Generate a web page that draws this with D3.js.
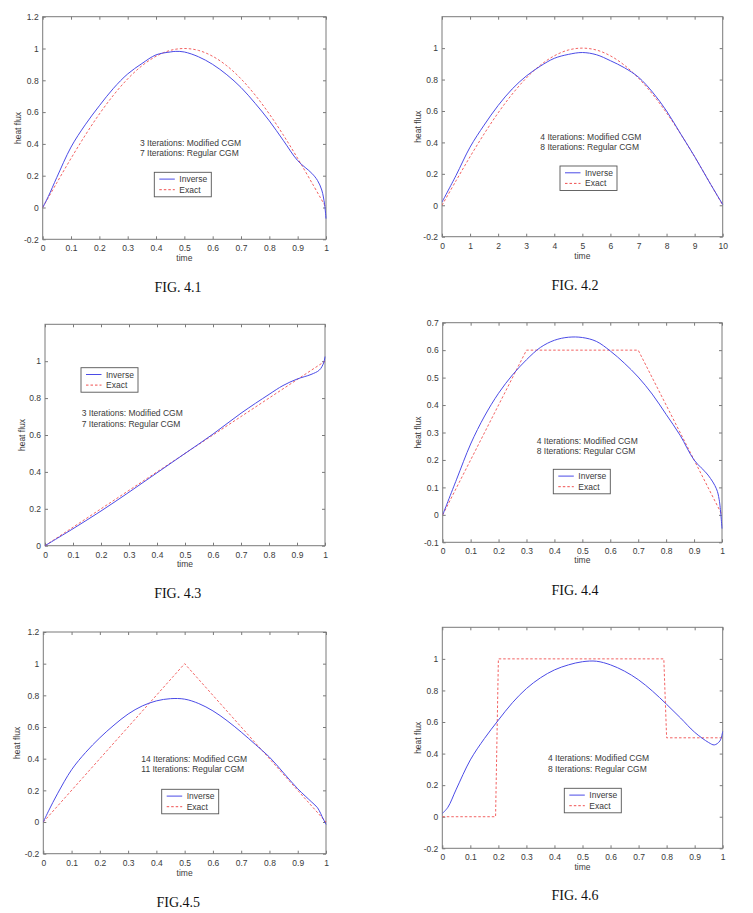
<!DOCTYPE html>
<html>
<head>
<meta charset="utf-8">
<script src="https://cdn.jsdelivr.net/npm/d3@7/dist/d3.min.js"></script>
<style>
  html, body { margin: 0; padding: 0; background: #fff; }
  svg { display: block; }
</style>
</head>
<body>
<svg id="chart" width="753" height="913"></svg>
<script>
// ---------------- DATA ----------------
const figureNames = ["FIG. 4.1", "FIG. 4.2", "FIG. 4.3", "FIG. 4.4", "FIG.4.5", "FIG. 4.6"];
const legendLabels = ["Inverse", "Exact"];
const annotations = [
  ["3 Iterations: Modified CGM", "7 Iterations: Regular CGM"],
  ["4 Iterations: Modified CGM", "8 Iterations: Regular CGM"],
  ["3 Iterations: Modified CGM", "7 Iterations: Regular CGM"],
  ["4 Iterations: Modified CGM", "8 Iterations: Regular CGM"],
  ["14 Iterations: Modified CGM", "11 Iterations: Regular CGM"],
  ["4 Iterations: Modified CGM", "8 Iterations: Regular CGM"]
];
const xLabel = "time";
const yLabel = "heat flux";

const xTicksUnit = [0, 0.1, 0.2, 0.3, 0.4, 0.5, 0.6, 0.7, 0.8, 0.9, 1];
const xTicksTen = [0, 1, 2, 3, 4, 5, 6, 7, 8, 9, 10];
const yTicksA = [-0.2, 0, 0.2, 0.4, 0.6, 0.8, 1, 1.2];
const yTicksB = [-0.2, 0, 0.2, 0.4, 0.6, 0.8, 1];
const yTicksC = [0, 0.2, 0.4, 0.6, 0.8, 1];
const yTicksD = [-0.1, 0, 0.1, 0.2, 0.3, 0.4, 0.5, 0.6, 0.7];

// FIG 4.1
const f1Time    = [0, 0.02, 0.05, 0.1, 0.15, 0.2, 0.25, 0.3, 0.35, 0.4, 0.45, 0.47, 0.5, 0.55, 0.6, 0.65, 0.7, 0.75, 0.8, 0.85, 0.9, 0.95, 0.97, 0.985, 0.995, 1];
const f1Inverse = [0, 0.07, 0.19, 0.38, 0.52, 0.64, 0.75, 0.84, 0.905, 0.96, 0.978, 0.982, 0.978, 0.948, 0.9, 0.835, 0.755, 0.655, 0.545, 0.42, 0.295, 0.215, 0.17, 0.11, 0.02, -0.07];
const f1ExactTime = [0, 0.05, 0.1, 0.15, 0.2, 0.25, 0.3, 0.35, 0.4, 0.45, 0.5, 0.55, 0.6, 0.65, 0.7, 0.75, 0.8, 0.85, 0.9, 0.95, 1];
const f1Exact     = [0, 0.156, 0.309, 0.454, 0.588, 0.707, 0.809, 0.891, 0.951, 0.988, 1, 0.988, 0.951, 0.891, 0.809, 0.707, 0.588, 0.454, 0.309, 0.156, 0];

// FIG 4.2
const f2Time    = [0, 0.5, 1, 1.5, 2, 2.5, 3, 3.5, 4, 4.5, 5, 5.5, 6, 6.5, 7, 7.5, 8, 8.5, 9, 9.5, 10];
const f2Inverse = [0.02, 0.19, 0.37, 0.51, 0.635, 0.74, 0.822, 0.885, 0.935, 0.96, 0.972, 0.958, 0.92, 0.875, 0.815, 0.72, 0.6, 0.455, 0.31, 0.155, 0.005];
const f2Exact   = [0, 0.156, 0.309, 0.454, 0.588, 0.707, 0.809, 0.891, 0.951, 0.988, 1, 0.988, 0.951, 0.891, 0.809, 0.707, 0.588, 0.454, 0.309, 0.156, 0];

// FIG 4.3
const f3Time    = [0, 0.1, 0.2, 0.3, 0.4, 0.5, 0.6, 0.7, 0.8, 0.85, 0.9, 0.95, 0.98, 0.995, 1];
const f3Inverse = [0, 0.092, 0.188, 0.29, 0.395, 0.5, 0.605, 0.718, 0.82, 0.868, 0.903, 0.928, 0.952, 0.99, 1.025];
const f3ExactTime = [0, 1];
const f3Exact     = [0, 1];

// FIG 4.4
const f4Time    = [0, 0.05, 0.1, 0.15, 0.2, 0.25, 0.3, 0.35, 0.4, 0.45, 0.5, 0.55, 0.6, 0.65, 0.7, 0.75, 0.8, 0.85, 0.9, 0.95, 0.98, 0.99, 1];
const f4Inverse = [0, 0.13, 0.258, 0.36, 0.443, 0.51, 0.565, 0.61, 0.636, 0.647, 0.646, 0.632, 0.597, 0.553, 0.502, 0.44, 0.366, 0.29, 0.2, 0.145, 0.095, 0.055, -0.05];
const f4ExactTime = [0, 0.3, 0.7, 1];
const f4Exact     = [0, 0.6, 0.6, 0];

// FIG 4.5
const f5Time    = [0, 0.02, 0.05, 0.1, 0.15, 0.2, 0.25, 0.3, 0.35, 0.4, 0.45, 0.5, 0.55, 0.6, 0.65, 0.7, 0.75, 0.8, 0.85, 0.9, 0.95, 0.97, 0.99, 1];
const f5Inverse = [0, 0.075, 0.178, 0.33, 0.44, 0.532, 0.612, 0.682, 0.733, 0.765, 0.779, 0.776, 0.748, 0.702, 0.64, 0.568, 0.49, 0.41, 0.31, 0.21, 0.125, 0.09, 0.02, -0.015];
const f5ExactTime = [0, 0.5, 1];
const f5Exact     = [0, 1, 0];

// FIG 4.6
const f6Time    = [0, 0.02, 0.05, 0.1, 0.15, 0.2, 0.25, 0.3, 0.35, 0.4, 0.45, 0.5, 0.55, 0.6, 0.65, 0.7, 0.75, 0.8, 0.85, 0.9, 0.95, 0.97, 0.99, 1];
const f6Inverse = [0.02, 0.06, 0.175, 0.36, 0.495, 0.612, 0.722, 0.812, 0.88, 0.93, 0.962, 0.982, 0.985, 0.962, 0.922, 0.867, 0.795, 0.712, 0.625, 0.535, 0.47, 0.455, 0.48, 0.54];
const f6ExactTime = [0, 0.19, 0.2, 0.79, 0.8, 1];
const f6Exact     = [0, 0, 1, 1, 0.5, 0.5];

// ---------------- LAYOUT ----------------
const panels = [
  { rect: [42.7, 16.7, 326, 239.3], xd: [0, 1], yd: [-0.2, 1.2], xt: xTicksUnit, yt: yTicksA,
    inv: [f1Time, f1Inverse], ex: [f1ExactTime, f1Exact], exSmooth: true,
    ann: [140, 142.7], leg: [154.3, 172.3], ylab: 18.3, xlabY: 257.7, fig: [178, 287] },
  { rect: [442, 16.7, 722.7, 236.7], xd: [0, 10], yd: [-0.2, 1.2], xt: xTicksTen, yt: yTicksB,
    inv: [f2Time, f2Inverse], ex: [f2Time, f2Exact], exSmooth: true,
    ann: [540.3, 136.7], leg: [560, 166], ylab: 417.7, xlabY: 256, fig: [575, 285] },
  { rect: [45, 324.3, 325, 545.7], xd: [0, 1], yd: [0, 1.2], xt: xTicksUnit, yt: yTicksC,
    inv: [f3Time, f3Inverse], ex: [f3ExactTime, f3Exact], exSmooth: false,
    ann: [81.7, 413.3], leg: [81, 367.7], ylab: 21.7, xlabY: 564.3, fig: [177.7, 593.3] },
  { rect: [442.7, 322.7, 722, 542.3], xd: [0, 1], yd: [-0.1, 0.7], xt: xTicksUnit, yt: yTicksD,
    inv: [f4Time, f4Inverse], ex: [f4ExactTime, f4Exact], exSmooth: false,
    ann: [536.7, 440.7], leg: [553.3, 469.3], ylab: 417.7, xlabY: 560.3, fig: [575, 590] },
  { rect: [43.3, 632, 326, 853.7], xd: [0, 1], yd: [-0.2, 1.2], xt: xTicksUnit, yt: yTicksA,
    inv: [f5Time, f5Inverse], ex: [f5ExactTime, f5Exact], exSmooth: false,
    ann: [141.3, 758.7], leg: [161.7, 789.3], ylab: 17.3, xlabY: 872.7, fig: [178.3, 902.7] },
  { rect: [442.3, 627.3, 722.7, 848.3], xd: [0, 1], yd: [-0.2, 1.2], xt: xTicksUnit, yt: yTicksB,
    inv: [f6Time, f6Inverse], ex: [f6ExactTime, f6Exact], exSmooth: false,
    ann: [548, 758], leg: [564.3, 788.3], ylab: 417.7, xlabY: 867, fig: [575, 895.7] }
];

const axisColor = "#7a7a7a";
const textColor = "#3a3a3a";
const blue = "#4b4be6";
const red = "#f05050";
const sans = "Liberation Sans, Arial, sans-serif";
const fontSize = 8.5;

const svg = d3.select("#chart");

panels.forEach((p, i) => {
  const [x0, y0, x1, y1] = p.rect;
  const x = d3.scaleLinear().domain(p.xd).range([x0, x1]);
  const y = d3.scaleLinear().domain(p.yd).range([y1, y0]);
  const g = svg.append("g");

  const clipId = "clip" + i;
  g.append("clipPath").attr("id", clipId).append("rect")
    .attr("x", x0).attr("y", y0 - 3).attr("width", x1 - x0 + 2).attr("height", y1 - y0 + 6);

  const fmt = v => String(+v.toFixed(2));

  const xAxis = d3.axisBottom(x).tickValues(p.xt).tickSize(-3).tickPadding(6).tickFormat(fmt);
  const yAxis = d3.axisLeft(y).tickValues(p.yt).tickSize(-3).tickPadding(4).tickFormat(fmt);
  const xTop = d3.axisTop(x).tickValues(p.xt).tickSize(-3).tickFormat("");
  const yRight = d3.axisRight(y).tickValues(p.yt).tickSize(-3).tickFormat("");

  const styleAxis = sel => {
    sel.select(".domain").remove();
    sel.selectAll(".tick line").attr("stroke", axisColor).attr("stroke-width", 1);
    sel.selectAll(".tick text").attr("fill", textColor)
      .style("font-family", sans).style("font-size", fontSize + "px");
  };
  g.append("g").attr("transform", `translate(0,${y1})`).call(xAxis).call(styleAxis);
  g.append("g").attr("transform", `translate(${x0},0)`).call(yAxis).call(styleAxis);
  g.append("g").attr("transform", `translate(0,${y0})`).call(xTop).call(styleAxis);
  g.append("g").attr("transform", `translate(${x1},0)`).call(yRight).call(styleAxis);

  g.append("rect").attr("x", x0).attr("y", y0).attr("width", x1 - x0).attr("height", y1 - y0)
    .attr("fill", "none").attr("stroke", axisColor).attr("stroke-width", 1);

  const inv = p.inv[0].map((t, k) => [t, p.inv[1][k]]);
  const ex = p.ex[0].map((t, k) => [t, p.ex[1][k]]);
  const smooth = d3.line().x(d => x(d[0])).y(d => y(d[1])).curve(d3.curveCatmullRom.alpha(0.5));
  const straight = d3.line().x(d => x(d[0])).y(d => y(d[1]));

  g.append("path").attr("clip-path", `url(#${clipId})`)
    .attr("d", p.exSmooth ? smooth(ex) : straight(ex))
    .attr("fill", "none").attr("stroke", red).attr("stroke-width", 0.9)
    .attr("stroke-dasharray", "2.5,2");
  g.append("path").attr("clip-path", `url(#${clipId})`)
    .attr("d", smooth(inv))
    .attr("fill", "none").attr("stroke", blue).attr("stroke-width", 1);

  const ann = g.append("text").attr("x", p.ann[0]).attr("y", p.ann[1])
    .attr("fill", textColor).style("font-family", sans).style("font-size", fontSize + "px")
    .attr("dominant-baseline", "central");
  annotations[i].forEach((s, k) => {
    ann.append("tspan").attr("x", p.ann[0]).attr("y", p.ann[1] + k * 10.7).text(s);
  });

  const [lx, ly] = p.leg;
  const lw = 57, lh = 24.5;
  const lg = g.append("g");
  lg.append("rect").attr("x", lx).attr("y", ly).attr("width", lw).attr("height", lh)
    .attr("fill", "#fff").attr("stroke", "#555").attr("stroke-width", 0.9);
  const rows = [
    { label: legendLabels[0], color: blue, dash: null },
    { label: legendLabels[1], color: red, dash: "2.5,2" }
  ];
  rows.forEach((r, k) => {
    const ry = ly + 6.8 + k * 10.6;
    lg.append("line").attr("x1", lx + 5).attr("x2", lx + 20.5).attr("y1", ry).attr("y2", ry)
      .attr("stroke", r.color).attr("stroke-width", 1)
      .attr("stroke-dasharray", r.dash);
    lg.append("text").attr("x", lx + 25).attr("y", ry).attr("dominant-baseline", "central")
      .attr("fill", textColor).style("font-family", sans).style("font-size", fontSize + "px")
      .text(r.label);
  });

  g.append("text").attr("x", (x0 + x1) / 2).attr("y", p.xlabY)
    .attr("text-anchor", "middle").attr("dominant-baseline", "central")
    .attr("fill", textColor).style("font-family", sans).style("font-size", fontSize + "px")
    .text(xLabel);
  g.append("text")
    .attr("transform", `translate(${p.ylab},${(y0 + y1) / 2}) rotate(-90)`)
    .attr("text-anchor", "middle").attr("dominant-baseline", "central")
    .attr("fill", textColor).style("font-family", sans).style("font-size", fontSize + "px")
    .text(yLabel);

  g.append("text").attr("x", p.fig[0]).attr("y", p.fig[1])
    .attr("text-anchor", "middle").attr("dominant-baseline", "central")
    .attr("fill", "#111").style("font-family", "Liberation Serif, 'Times New Roman', serif")
    .style("font-size", "14px").text(figureNames[i]);
});
</script>
</body>
</html>
